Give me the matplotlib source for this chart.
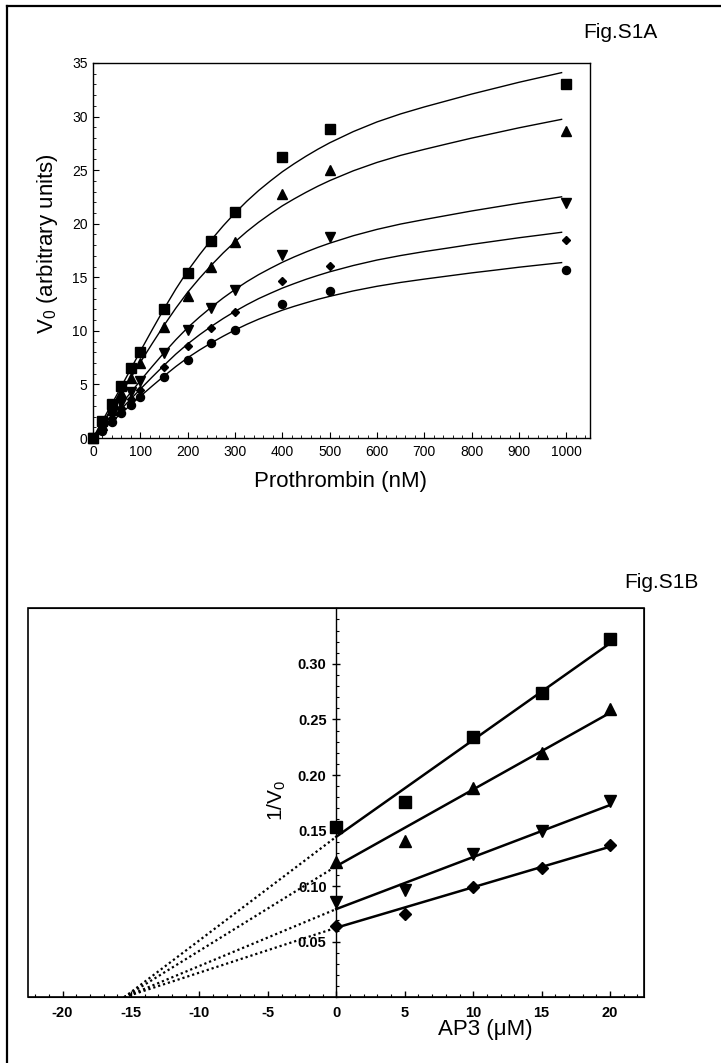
import numpy as np
import matplotlib.pyplot as plt
from matplotlib.lines import Line2D
from matplotlib.patches import Rectangle
from matplotlib.ticker import MultipleLocator, FixedLocator

plt.rcParams['font.family'] = ['Liberation Sans', 'DejaVu Sans']
plt.rcParams['mathtext.fontset'] = 'custom'
plt.rcParams['mathtext.rm'] = 'Liberation Sans'
plt.rcParams['mathtext.it'] = 'Liberation Sans'
plt.rcParams['axes.unicode_minus'] = False

# --- Fig.S1A : V0 vs prothrombin ---
prothrombin = [0, 20, 40, 60, 80, 100, 150, 200, 250, 300, 400, 500, 1000]
v_square = [0, 1.6, 3.2, 4.9, 6.5, 8.05, 12.0, 15.4, 18.4, 21.1, 26.2, 28.8, 33.0]
v_triup = [0, 1.2, 2.6, 4.2, 5.6, 7.0, 10.4, 13.25, 16.0, 18.3, 22.8, 25.0, 28.7]
v_tridown = [0, 1.0, 2.2, 3.3, 4.3, 5.35, 7.9, 10.1, 12.1, 13.8, 17.1, 18.8, 21.9]
v_diamond = [0, 0.9, 1.9, 2.8, 3.6, 4.5, 6.65, 8.6, 10.3, 11.8, 14.7, 16.1, 18.5]
v_circle = [0, 0.7, 1.5, 2.3, 3.1, 3.8, 5.65, 7.3, 8.85, 10.1, 12.5, 13.7, 15.7]

# fitted curves
fit_x = [0, 25, 50, 75, 100, 125, 150, 175, 200, 225, 250, 275, 300, 325, 350, 375,
         400, 425, 450, 475, 500, 550, 600, 650, 700, 750, 800, 850, 900, 950, 990]
fit_square = [0, 2.0, 4.0, 6.05, 8.1, 10.1, 12.05, 13.9, 15.6, 17.1, 18.5, 19.8, 21.0, 22.1, 23.1, 24.0,
              24.85, 25.6, 26.3, 26.95, 27.55, 28.6, 29.5, 30.25, 30.9, 31.5, 32.1, 32.65, 33.2, 33.7, 34.1]
fit_triup = [0, 1.74, 3.49, 5.28, 7.06, 8.81, 10.51, 12.12, 13.6, 14.91, 16.13, 17.27, 18.31, 19.27, 20.14, 20.93,
             21.67, 22.32, 22.93, 23.5, 24.02, 24.94, 25.72, 26.38, 26.94, 27.47, 27.99, 28.47, 28.95, 29.39, 29.74]
fit_tridown = [0, 1.32, 2.64, 3.99, 5.35, 6.67, 7.95, 9.17, 10.3, 11.29, 12.21, 13.07, 13.86, 14.59, 15.25, 15.84,
               16.4, 16.9, 17.36, 17.79, 18.18, 18.88, 19.47, 19.97, 20.39, 20.79, 21.19, 21.55, 21.91, 22.24, 22.51]
fit_diamond = [0, 1.13, 2.25, 3.41, 4.56, 5.69, 6.78, 7.83, 8.78, 9.63, 10.42, 11.15, 11.82, 12.44, 13.01, 13.51,
               13.99, 14.41, 14.81, 15.17, 15.51, 16.1, 16.61, 17.03, 17.4, 17.73, 18.07, 18.38, 18.69, 18.97, 19.2]
fit_circle = [0, 0.96, 1.92, 2.9, 3.89, 4.85, 5.78, 6.67, 7.49, 8.21, 8.88, 9.5, 10.08, 10.61, 11.09, 11.52,
              11.93, 12.29, 12.62, 12.94, 13.22, 13.73, 14.16, 14.52, 14.83, 15.12, 15.41, 15.67, 15.94, 16.18, 16.37]

# --- Fig.S1B : 1/V0 vs AP3 ---
ap3 = [0, 5, 10, 15, 20]
inv_square = [0.1535, 0.1755, 0.2345, 0.2736, 0.3225]
inv_triup = [0.122, 0.141, 0.1886, 0.2196, 0.2595]
inv_tridown = [0.086, 0.0965, 0.1286, 0.150, 0.177]
inv_diamond = [0.0644, 0.0746, 0.0995, 0.116, 0.137]

# line ends: x-axis crossing, value at 0, value at 20
line_x = [-15.5, 0, 20]
line_square = [0, 0.1445, 0.3186]
line_triup = [0, 0.118, 0.256]
line_tridown = [0, 0.0794, 0.173]
line_diamond = [0, 0.0626, 0.1355]

W, H = 721, 1063
fig = plt.figure(figsize=(W / 100, H / 100), dpi=100)

# frame (only left and top edges visible)
fig.add_artist(Line2D([6.5 / W, 6.5 / W], [0, 1 - 6 / H], color='black', lw=1.6, transform=fig.transFigure))
fig.add_artist(Line2D([6.5 / W, 1], [1 - 6 / H, 1 - 6 / H], color='black', lw=1.6, transform=fig.transFigure))

# ---------------- panel A ----------------
axA = fig.add_axes([93 / W, 1 - 438 / H, 497 / W, 375 / H])
styles_a = [('s', 6.7, v_square, fit_square),
            ('^', 6.8, v_triup, fit_triup),
            ('v', 6.8, v_tridown, fit_tridown),
            ('D', 4.3, v_diamond, fit_diamond),
            ('o', 5.8, v_circle, fit_circle)]
for mk, ms, vals, fit in styles_a:
    axA.plot(fit_x, fit, color='black', lw=1.0, zorder=2)
    axA.plot(prothrombin, vals, linestyle='none', marker=mk, ms=ms, color='black', zorder=3, clip_on=False)

axA.set_xlim(0, 1050)
axA.set_ylim(0, 35)
axA.xaxis.set_major_locator(FixedLocator(range(0, 1001, 100)))
axA.xaxis.set_minor_locator(FixedLocator(range(0, 1041, 20)))
axA.yaxis.set_major_locator(MultipleLocator(5))
axA.yaxis.set_minor_locator(MultipleLocator(1))
axA.tick_params(which='both', direction='in', top=False, right=False, labelsize=10)
axA.tick_params(which='major', length=4, width=0.8)
axA.tick_params(which='minor', length=2, width=0.6)
axA.tick_params(axis='x', pad=5)
axA.tick_params(axis='y', pad=4)
for sp in axA.spines.values():
    sp.set_linewidth(1.0)

fig.text(48 / W, 1 - 244 / H, 'V$_0$ (arbitrary units)', rotation=90, ha='center', va='center', fontsize=16)
fig.text(341 / W, 1 - 482 / H, 'Prothrombin (nM)', ha='center', va='center', fontsize=16)
fig.text(620 / W, 1 - 33 / H, 'Fig.S1A', ha='center', va='center', fontsize=15)

# ---------------- panel B ----------------
axB = fig.add_axes([28.3 / W, 1 - 997.3 / H, 616 / W, 389 / H])
styles_b = [('s', 8.8, inv_square, line_square),
            ('^', 8.5, inv_triup, line_triup),
            ('v', 8.5, inv_tridown, line_tridown),
            ('D', 6.5, inv_diamond, line_diamond)]
for mk, ms, vals, ln in styles_b:
    axB.plot(line_x[:2], ln[:2], color='black', lw=1.6, linestyle=(0, (1, 1.3)), zorder=2)
    axB.plot(line_x[1:], ln[1:], color='black', lw=1.8, zorder=2)
    axB.plot(ap3, vals, linestyle='none', marker=mk, ms=ms, color='black', zorder=3)

axB.set_xlim(-22.5, 22.5)
axB.set_ylim(0, 0.35)
axB.spines['left'].set_position(('data', 0))
axB.add_patch(Rectangle((0, 0), 1, 1, transform=axB.transAxes, fill=False, lw=1.2,
                        edgecolor='black', clip_on=False, zorder=5))
axB.xaxis.set_major_locator(MultipleLocator(5))
axB.xaxis.set_minor_locator(MultipleLocator(1))
axB.yaxis.set_major_locator(FixedLocator([0.05, 0.10, 0.15, 0.20, 0.25, 0.30]))
axB.yaxis.set_minor_locator(MultipleLocator(0.01))
axB.yaxis.set_major_formatter(plt.FuncFormatter(lambda v, p: f'{v:.2f}'))
axB.tick_params(which='both', top=False, right=False, labelsize=10.5)
axB.tick_params(axis='x', which='major', direction='in', length=4, width=1.0, pad=6)
axB.tick_params(axis='x', which='minor', direction='in', length=2.5, width=0.8)
axB.tick_params(axis='y', which='major', direction='inout', length=6, width=1.0, pad=4)
axB.tick_params(axis='y', which='minor', direction='in', length=2.5, width=0.8)
for lab in axB.get_xticklabels() + axB.get_yticklabels():
    lab.set_fontweight('bold')
axB.spines['left'].set_linewidth(1.0)

fig.text(277 / W, 1 - 800 / H, '1/V$_0$', rotation=90, ha='center', va='center', fontsize=15)
fig.text(485 / W, 1 - 1030 / H, 'AP3 (μM)', ha='center', va='center', fontsize=16)
fig.text(699 / W, 1 - 582 / H, 'Fig.S1B', ha='right', va='center', fontsize=15)

fig.savefig('out.png', dpi=100)
